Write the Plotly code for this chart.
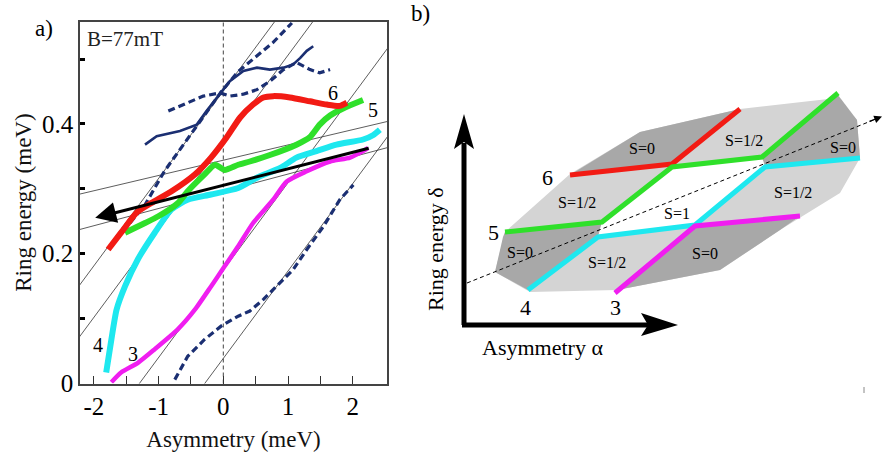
import plotly.graph_objects as go

SERIF = "Liberation Serif, Times New Roman, serif"

# ================= panel a: measured curves (meV) =================
red_x = [-1.78, -1.58, -1.34, -1.11, -0.80, -0.44, -0.19, 0.05, 0.26, 0.46, 0.62, 0.77, 1.03, 1.34, 1.60, 1.80, 1.91]
red_y = [0.206, 0.232, 0.263, 0.278, 0.296, 0.322, 0.348, 0.379, 0.410, 0.430, 0.441, 0.443, 0.441, 0.435, 0.430, 0.428, 0.433]

green_x = [-1.52, -1.21, -1.01, -0.70, -0.55, -0.29, -0.13, 0.02, 0.23, 0.41, 0.72, 1.13, 1.34, 1.49, 1.65, 1.85, 2.16]
green_y = [0.232, 0.247, 0.257, 0.278, 0.296, 0.322, 0.337, 0.329, 0.337, 0.342, 0.352, 0.368, 0.380, 0.399, 0.413, 0.424, 0.437]

cyan_x = [-1.81, -1.73, -1.65, -1.52, -1.32, -1.06, -0.80, -0.55, -0.19, 0.23, 0.52, 0.88, 1.13, 1.44, 1.75, 2.16, 2.32, 2.42]
cyan_y = [0.016, 0.067, 0.113, 0.149, 0.191, 0.232, 0.268, 0.283, 0.291, 0.301, 0.317, 0.332, 0.348, 0.358, 0.368, 0.376, 0.383, 0.391]

mag_x = [-1.73, -1.58, -1.32, -1.06, -0.70, -0.44, -0.19, 0.02, 0.23, 0.46, 0.77, 0.98, 1.29, 1.65, 1.96, 2.16, 2.24]
mag_y = [0.001, 0.016, 0.031, 0.052, 0.083, 0.113, 0.149, 0.180, 0.211, 0.247, 0.283, 0.311, 0.327, 0.342, 0.348, 0.358, 0.363]

navy_low_x = [-0.75, -0.55, -0.29, -0.03, 0.23, 0.41, 0.62, 0.88, 1.08, 1.29, 1.55, 1.80, 2.01]
navy_low_y = [0.005, 0.041, 0.067, 0.088, 0.103, 0.111, 0.129, 0.155, 0.175, 0.206, 0.242, 0.283, 0.306]

navy_steep_x = [-1.55, -1.21, -0.91, -0.55, -0.29, -0.03, 0.23, 0.50, 0.77, 1.06]
navy_steep_y = [0.234, 0.275, 0.327, 0.378, 0.414, 0.450, 0.481, 0.503, 0.526, 0.556]

navy_shal_x = [-0.85, -0.62, -0.31, -0.05, 0.10, 0.31, 0.52, 0.72, 0.93, 1.13, 1.34, 1.49, 1.65]
navy_shal_y = [0.420, 0.430, 0.443, 0.448, 0.443, 0.446, 0.453, 0.466, 0.484, 0.495, 0.484, 0.479, 0.484]

navy_solid_x = [-1.21, -1.03, -0.67, -0.41, -0.26, -0.10, 0.10, 0.31, 0.52, 0.72, 0.93, 1.08, 1.19, 1.29, 1.39]
navy_solid_y = [0.368, 0.381, 0.389, 0.399, 0.420, 0.441, 0.466, 0.482, 0.487, 0.484, 0.487, 0.492, 0.502, 0.513, 0.520]

# thin guide lines
steep_slope = 0.135
steep_x0 = [-3.34, -2.75, -1.29, -0.28]      # x-intercepts at zero energy
shallow_slope = [0.0236, 0.0266]
shallow_b = [0.344, 0.296]                    # value at zero asymmetry

# black arrow (tail -> head)
arrow_tail = (2.27, 0.363)
arrow_head = (-1.98, 0.255)

# curve labels
curve_labels = ["6", "5", "4", "3"]
curve_lab_x = [1.70, 2.32, -1.94, -1.40]
curve_lab_y = [0.448, 0.422, 0.059, 0.044]

# axes ticks
x_tickvals = [-2, -1.5, -1, -0.5, 0, 0.5, 1, 1.5, 2]
x_ticktext = ["-2", "", "-1", "", "0", "", "1", "", "2"]
y_tickvals = [0, 0.1, 0.2, 0.3, 0.4, 0.5]
y_ticktext = ["0", "", "0.2", "", "0.4", ""]

# ================= panel b: schematic (pixel-like coordinates) =================
outer_x = [495, 505, 570, 640, 740, 837, 857, 860, 840, 780, 720, 617, 530]
outer_y = [272, 232, 174, 132, 109, 98, 120, 158, 193, 230, 270, 290, 292]
dark_regions = [
    ([570, 640, 740, 672], [175, 132, 109, 164]),
    ([762, 838, 857, 860, 765], [157, 95, 120, 158, 167]),
    ([505, 602, 598, 528, 495, 503], [232, 222, 237, 290, 272, 237]),
    ([695, 800, 780, 720, 617, 615], [226, 216, 230, 270, 290, 293]),
]
white_x = [602, 672, 762, 765, 695, 598]
white_y = [222, 167, 157, 167, 225, 237]

b_red_x, b_red_y = [570, 672, 740], [175, 164, 109]
b_green_x, b_green_y = [505, 602, 672, 762, 838], [232, 222, 167, 157, 93]
b_cyan_x, b_cyan_y = [528, 598, 695, 765, 860], [290, 237, 225, 167, 158]
b_mag_x, b_mag_y = [615, 695, 800], [293, 226, 216]

diag_x, diag_y = [467, 876], [283, 119]
vaxis_x, vaxis_y = [464, 464], [325, 143]
haxis_x, haxis_y = [462, 648], [325, 325]
vhead_x, vhead_y = [464, 454, 464, 474], [114, 149, 142, 149]
hhead_x, hhead_y = [678, 641, 648, 641], [325, 313, 325, 336]

s_labels = ["S=0", "S=1/2", "S=0", "S=1/2", "S=1", "S=1/2", "S=0", "S=1/2", "S=0"]
s_lab_x = [642, 744, 843, 577, 677, 793, 520, 607, 705]
s_lab_y = [148, 140, 147, 202, 213, 192, 252, 262, 253]
b_num = ["6", "5", "4", "3"]
b_num_x = [547, 493, 525, 615]
b_num_y = [177, 232, 307, 307]

RED, GREEN, CYAN, MAG, NAVY = "#f21b14", "#2fe02a", "#1ee8ef", "#f01ef0", "#1b2f72"

fig = go.Figure()

# ---- panel a ----
gx, gy = [], []
for x0 in steep_x0:
    gx += [x0 + (-0.1) / steep_slope, x0 + 0.7 / steep_slope, None]
    gy += [-0.1, 0.7, None]
for m, b in zip(shallow_slope, shallow_b):
    gx += [-2.6, 2.9, None]
    gy += [b + m * -2.6, b + m * 2.9, None]
fig.add_trace(go.Scatter(x=gx, y=gy, mode="lines", line=dict(color="#333333", width=0.8),
                         hoverinfo="skip", showlegend=False))

for xs, ys, dash, w in [(navy_low_x, navy_low_y, "7px,4px", 3.2),
                        (navy_steep_x, navy_steep_y, "7px,4px", 3.2),
                        (navy_shal_x, navy_shal_y, "7px,4px", 3.2),
                        (navy_solid_x, navy_solid_y, "solid", 2.6)]:
    fig.add_trace(go.Scatter(x=xs, y=ys, mode="lines", line=dict(color=NAVY, width=w, dash=dash),
                             showlegend=False))

for xs, ys, c, w in [(mag_x, mag_y, MAG, 4.5), (cyan_x, cyan_y, CYAN, 6),
                     (green_x, green_y, GREEN, 6), (red_x, red_y, RED, 6)]:
    fig.add_trace(go.Scatter(x=xs, y=ys, mode="lines", line=dict(color=c, width=w, shape="spline", smoothing=0.6),
                             showlegend=False))

# ---- panel b ----
def poly(xs, ys, color):
    fig.add_trace(go.Scatter(x=xs + [xs[0]], y=ys + [ys[0]], xaxis="x2", yaxis="y2", mode="lines",
                             fill="toself", fillcolor=color, line=dict(width=0, color=color),
                             hoverinfo="skip", showlegend=False))

poly(outer_x, outer_y, "#d4d4d4")
for dx, dy in dark_regions:
    poly(dx, dy, "#a8a8a8")
poly(white_x, white_y, "#ffffff")

fig.add_trace(go.Scatter(x=diag_x, y=diag_y, xaxis="x2", yaxis="y2", mode="lines",
                         line=dict(color="black", width=1, dash="4px,3px"), showlegend=False))
for xs, ys, c in [(b_red_x, b_red_y, RED), (b_green_x, b_green_y, GREEN),
                  (b_cyan_x, b_cyan_y, CYAN), (b_mag_x, b_mag_y, MAG)]:
    fig.add_trace(go.Scatter(x=xs, y=ys, xaxis="x2", yaxis="y2", mode="lines",
                             line=dict(color=c, width=5), showlegend=False))
for xs, ys in [(vaxis_x, vaxis_y), (haxis_x, haxis_y)]:
    fig.add_trace(go.Scatter(x=xs, y=ys, xaxis="x2", yaxis="y2", mode="lines",
                             line=dict(color="black", width=5), showlegend=False))
poly(vhead_x, vhead_y, "black")
poly(hhead_x, hhead_y, "black")

annotations = []
# black arrow panel a
annotations.append(dict(x=arrow_head[0], y=arrow_head[1], ax=arrow_tail[0], ay=arrow_tail[1],
                        xref="x", yref="y", axref="x", ayref="y", text="", showarrow=True,
                        arrowhead=2, arrowsize=1.4, arrowwidth=3, arrowcolor="black"))
annotations.append(dict(x=-2.14, y=0.532, xref="x", yref="y", text="B=77mT", showarrow=False,
                        xanchor="left", font=dict(family=SERIF, size=21, color="#222")))
for t, x, y in zip(curve_labels, curve_lab_x, curve_lab_y):
    annotations.append(dict(x=x, y=y, xref="x", yref="y", text=t, showarrow=False,
                            font=dict(family=SERIF, size=20, color="black")))
annotations.append(dict(x=33 / 882, y=1 - 14 / 459, xref="paper", yref="paper", text="a)", showarrow=False,
                        font=dict(family=SERIF, size=23, color="black")))
annotations.append(dict(x=420, y=13, xref="x2", yref="y2", text="b)", showarrow=False,
                        font=dict(family=SERIF, size=23, color="black")))
# panel b texts
for t, x, y in zip(s_labels, s_lab_x, s_lab_y):
    annotations.append(dict(x=x, y=y, xref="x2", yref="y2", text=t, showarrow=False,
                            font=dict(family=SERIF, size=16, color="black")))
for t, x, y in zip(b_num, b_num_x, b_num_y):
    annotations.append(dict(x=x, y=y, xref="x2", yref="y2", text=t, showarrow=False,
                            font=dict(family=SERIF, size=22, color="black")))
annotations.append(dict(x=542, y=347, xref="x2", yref="y2", text="Asymmetry α", showarrow=False,
                        font=dict(family=SERIF, size=22, color="black")))
annotations.append(dict(x=435, y=249, xref="x2", yref="y2", text="Ring energy δ", showarrow=False,
                        textangle=-90, font=dict(family=SERIF, size=22, color="black")))
# dashed diagonal arrowhead
annotations.append(dict(x=882, y=116.5, ax=868, ay=122, xref="x2", yref="y2", axref="x2", ayref="y2",
                        text="", showarrow=True, arrowhead=2, arrowsize=1.3, arrowwidth=1.2,
                        arrowcolor="black"))

shapes = [
    dict(type="line", xref="x", yref="y domain", x0=0, x1=0, y0=0, y1=1,
         line=dict(color="#444", width=1, dash="4px,3px"), layer="below"),
    dict(type="line", xref="x2", yref="y2", x0=864, x1=864, y0=387, y1=393,
         line=dict(color="#888", width=1)),
]

fig.update_layout(
    width=882, height=459, margin=dict(l=0, r=0, t=0, b=0),
    paper_bgcolor="white", plot_bgcolor="white", showlegend=False,
    font=dict(family=SERIF, color="black"),
    xaxis=dict(domain=[80 / 882, 387 / 882], range=[-2.215, 2.53], showgrid=False, zeroline=False,
               showline=True, mirror=True, linecolor="#444", linewidth=1.5,
               ticks="inside", ticklen=8, tickwidth=1, tickcolor="#333",
               tickvals=x_tickvals, ticktext=x_ticktext, tickfont=dict(family=SERIF, size=25, color="black"),
               title=dict(text="Asymmetry (meV)", font=dict(family=SERIF, size=23, color="#111"), standoff=12),
               automargin=False),
    yaxis=dict(domain=[1 - 383.5 / 459, 1 - 21.7 / 459], range=[-0.001, 0.558], showgrid=False, zeroline=False,
               showline=True, mirror=True, linecolor="#444", linewidth=1.5,
               ticks="inside", ticklen=5, tickwidth=3, tickcolor="black",
               tickvals=y_tickvals, ticktext=y_ticktext, tickfont=dict(family=SERIF, size=25, color="black"),
               title=dict(text="Ring energy (meV)", font=dict(family=SERIF, size=23, color="#111"), standoff=4),
               automargin=False),
    xaxis2=dict(domain=[400 / 882, 1], range=[400, 882], visible=False, anchor="y2"),
    yaxis2=dict(domain=[0, 1], range=[459, 0], visible=False, anchor="x2"),
    annotations=annotations, shapes=shapes,
)

fig.write_html("out.html", config={"displayModeBar": False},
               post_script="document.body.style.margin='0';document.body.style.overflow='hidden';")
